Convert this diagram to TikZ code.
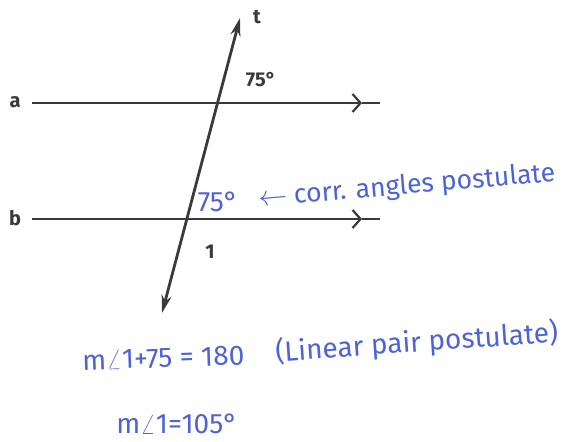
\documentclass[tikz,border=0pt]{standalone}
\usepackage{fontspec}
\setsansfont{Fira Sans}
\usetikzlibrary{positioning,arrows.meta}
\definecolor{Ink}{HTML}{3A3A3A}
\definecolor{Pen}{HTML}{4D63D6}

\begin{document}
\begin{tikzpicture}[x=0.5pt,y=-0.5pt,
    ln/.style={line width=1.4pt,color=Ink},
    par/.style={ln,-{Straight Barb[length=4pt,width=9pt,line width=1.1pt]}},
    trans/.style={ln,{Stealth[length=9pt,width=5pt]}-{Stealth[length=9pt,width=5pt]}},
    lbl/.style={font=\sffamily\bfseries\normalsize,color=Ink,inner sep=1pt},
    note/.style={font=\sffamily\fontsize{14}{16}\selectfont,color=Pen,inner sep=1pt}
  ]
  \useasboundingbox (0,0) rectangle (567,441);
  % parallel lines a and b
  \coordinate (a0) at (32,103);
  \coordinate (a1) at (362,103);
  \coordinate (a2) at (380,103);
  \coordinate (b0) at (32,219);
  \coordinate (b1) at (362,219);
  \coordinate (b2) at (380,219);
  \draw[par] (a0) -- (a1);
  \draw[ln] (a1) -- (a2);
  \draw[par] (b0) -- (b1);
  \draw[ln] (b1) -- (b2);
  % transversal t
  \coordinate (t0) at (162,313);
  \coordinate (t1) at (240,18);
  \draw[trans] (t0) -- (t1);
  % labels
  \node[lbl] (la) at (15,102) {a};
  \node[lbl] (lb) at (15,218) {b};
  \node[lbl] (lt) at (257,17) {t};
  \node[lbl] (top) at (261,80) {75\textdegree};
  \node[lbl] (one) at (210,252) {1};
  % handwritten notes
  \node[note] (low) at (218,202) {75\textdegree};
  \node[note,font=\sffamily\fontsize{13.3}{16}\selectfont,rotate=5,anchor=west] (corr) at (256,200) {$\leftarrow$ corr. angles postulate};
  \node[note,rotate=2,anchor=west] (eqa) at (80,361) {m$\angle$1+75 = 180};
  \node[note,rotate=4,anchor=west] (lin) at (273,353) {(Linear pair postulate)};
  \node[note,anchor=west] (eqb) at (114,424) {m$\angle$1=105\textdegree};
\end{tikzpicture}
\end{document}
